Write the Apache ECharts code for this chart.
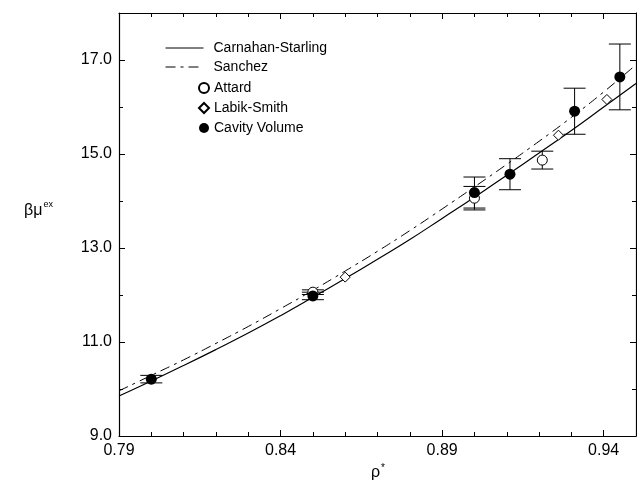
<!DOCTYPE html>
<html>
<head>
<meta charset="utf-8">
<script src="https://cdn.jsdelivr.net/npm/echarts@6/dist/echarts.min.js"></script>
<style>
  html, body { margin: 0; padding: 0; background: #fff; }
  #main { width: 637px; height: 484px; }
</style>
</head>
<body>
<div id="main"></div>
<script>
  // curves
  var rhoGrid = [0.79, 0.80, 0.81, 0.82, 0.83, 0.84, 0.85, 0.86, 0.87, 0.88, 0.89, 0.90, 0.91, 0.92, 0.93, 0.94, 0.95]
  var csMu = [9.85, 10.17, 10.50, 10.84, 11.19, 11.56, 11.95, 12.35, 12.76, 13.18, 13.63, 14.08, 14.55, 15.02, 15.50, 16.00, 16.50]
  var sanchezMu = [9.96, 10.29, 10.62, 10.97, 11.33, 11.71, 12.10, 12.51, 12.93, 13.37, 13.83, 14.30, 14.78, 15.27, 15.78, 16.32, 16.90]

  // simulation points
  var attardRho = [0.85, 0.90, 0.921]
  var attardMu = [12.06, 14.06, 14.87]
  var attardErr = [0.05, 0.25, 0.19]

  var labikRho = [0.86, 0.926, 0.941]
  var labikMu = [12.38, 15.40, 16.16]

  var cavityRho = [0.80, 0.85, 0.90, 0.911, 0.931, 0.945]
  var cavityMu = [10.21, 11.98, 14.18, 14.57, 15.91, 16.64]
  var cavityErr = [0.08, 0.08, 0.33, 0.33, 0.49, 0.70]

  var xMin = 0.79, xMax = 0.95, yMin = 9, yMax = 18
  var font = "'Liberation Sans', Arial, sans-serif"

  function pairs(xs, ys) {
    return xs.map(function (x, i) { return [x, ys[i]] })
  }
  function errData(xs, ys, es) {
    return xs.map(function (x, i) { return [x, ys[i] - es[i], ys[i] + es[i]] })
  }

  function renderErr(params, api) {
    var top = api.coord([api.value(0), api.value(2)])
    var bot = api.coord([api.value(0), api.value(1)])
    var w = 11
    var st = {stroke: '#000', lineWidth: 1}
    return {
      type: 'group',
      children: [
        {type: 'line', shape: {x1: top[0], y1: top[1], x2: bot[0], y2: bot[1]}, style: st},
        {type: 'line', shape: {x1: top[0] - w, y1: top[1], x2: top[0] + w, y2: top[1]}, style: st},
        {type: 'line', shape: {x1: bot[0] - w, y1: bot[1], x2: bot[0] + w, y2: bot[1]}, style: st}
      ]
    }
  }

  function xAx(pos, major) {
    return {
      type: 'value', position: pos, min: xMin, max: xMax,
      interval: major ? 0.05 : 0.01,
      axisLine: {show: major, lineStyle: {color: '#000', width: 1.2}},
      axisTick: {inside: true, length: major ? 6 : 4, lineStyle: {color: '#000', width: 1}},
      axisLabel: {
        show: major && pos === 'bottom', showMaxLabel: false, margin: 7,
        color: '#000', fontSize: 16, fontFamily: font,
        formatter: function (v) { return v.toFixed(2) }
      },
      splitLine: {show: false}
    }
  }
  function yAx(pos, major) {
    return {
      type: 'value', position: pos, min: yMin, max: yMax,
      interval: major ? 2 : 1,
      axisLine: {show: major, lineStyle: {color: '#000', width: 1.2}},
      axisTick: {inside: true, length: major ? 6 : 4, lineStyle: {color: '#000', width: 1}},
      axisLabel: {
        show: major && pos === 'left', showMaxLabel: false, margin: 7,
        color: '#000', fontSize: 16, fontFamily: font,
        formatter: function (v) { return v.toFixed(1) }
      },
      splitLine: {show: false}
    }
  }

  var myChart = echarts.init(document.getElementById('main'))
  myChart.setOption({
    animation: false,
    backgroundColor: '#fff',
    grid: {left: 119, right: 1, top: 13, bottom: 48},
    xAxis: [xAx('bottom', true), xAx('bottom', false), xAx('top', true), xAx('top', false)],
    yAxis: [yAx('left', true), yAx('left', false), yAx('right', true), yAx('right', false)],
    legend: [
      {
        // line samples only, the dot is hidden
        data: ['Carnahan-Starling', 'Sanchez'],
        orient: 'vertical', left: 160, top: 36,
        itemWidth: 38, itemHeight: 10, itemGap: 5,
        itemStyle: {opacity: 0},
        lineStyle: {width: 1},
        textStyle: {color: '#000', fontSize: 14, fontFamily: font, lineHeight: 14, padding: [0, 0, 0, 5]}
      },
      {
        data: ['Attard', 'Labik-Smith', 'Cavity Volume'],
        orient: 'vertical', left: 193, top: 76,
        itemWidth: 10, itemHeight: 10, itemGap: 6,
        textStyle: {color: '#000', fontSize: 14, fontFamily: font, lineHeight: 14}
      }
    ],
    graphic: [
      {
        type: 'text', left: 24, top: 200,
        style: {
          text: '{a|βμ}{b|ex}',
          rich: {
            a: {fontSize: 16, fontFamily: font, fill: '#000', verticalAlign: 'bottom'},
            b: {fontSize: 9, fontFamily: font, fill: '#000', verticalAlign: 'bottom', padding: [0, 0, 10, 1]}
          }
        }
      },
      {
        type: 'text', left: 371, top: 463,
        style: {
          text: '{a|ρ}{b|*}',
          rich: {
            a: {fontSize: 16, fontFamily: font, fill: '#000', verticalAlign: 'bottom'},
            b: {fontSize: 10, fontFamily: font, fill: '#000', verticalAlign: 'bottom', padding: [0, 0, 8, 1]}
          }
        }
      }
    ],
    series: [
      {
        name: 'Carnahan-Starling', type: 'line', smooth: true, symbol: 'none', z: 3,
        lineStyle: {color: '#000', width: 1.2},
        itemStyle: {color: '#000'},
        data: pairs(rhoGrid, csMu)
      },
      {
        name: 'Sanchez', type: 'line', smooth: true, symbol: 'none', z: 3,
        lineStyle: {color: '#000', width: 1, type: [10, 5, 3, 5]},
        itemStyle: {color: '#000'},
        data: pairs(rhoGrid, sanchezMu)
      },
      {
        type: 'custom', renderItem: renderErr, z: 4,
        encode: {x: 0, y: [1, 2]},
        data: errData(attardRho, attardMu, attardErr)
      },
      {
        type: 'custom', renderItem: renderErr, z: 4,
        encode: {x: 0, y: [1, 2]},
        data: errData(cavityRho, cavityMu, cavityErr)
      },
      {
        name: 'Attard', type: 'scatter', symbol: 'circle', symbolSize: 10, z: 5,
        itemStyle: {color: '#fff', borderColor: '#000', borderWidth: 1, opacity: 1},
        data: pairs(attardRho, attardMu)
      },
      {
        name: 'Labik-Smith', type: 'scatter', symbol: 'diamond', symbolSize: 10, z: 5,
        itemStyle: {color: '#fff', borderColor: '#000', borderWidth: 1, opacity: 1},
        data: pairs(labikRho, labikMu)
      },
      {
        name: 'Cavity Volume', type: 'scatter', symbol: 'circle', symbolSize: 11, z: 6,
        itemStyle: {color: '#000', opacity: 1},
        data: pairs(cavityRho, cavityMu)
      }
    ]
  })
</script>
</body>
</html>
